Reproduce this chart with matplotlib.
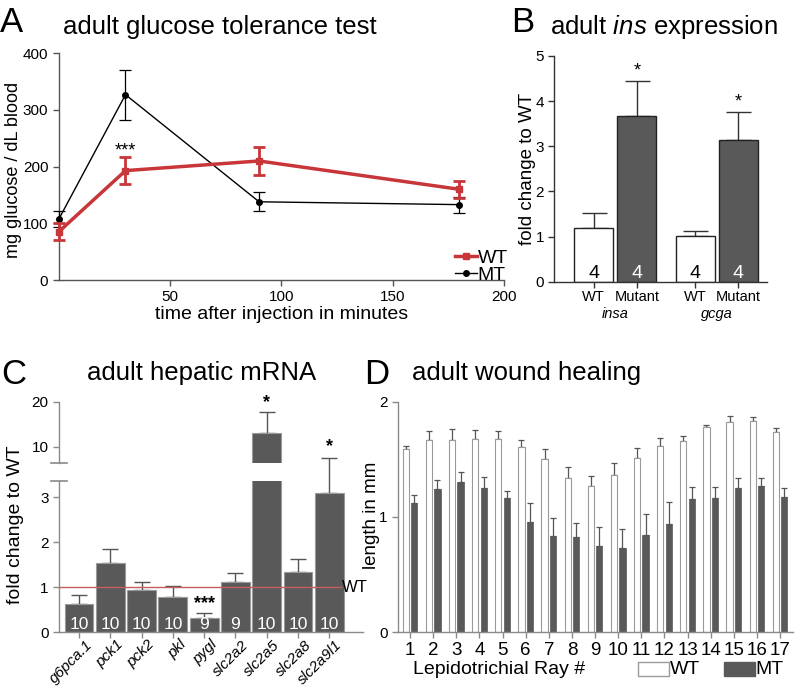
import numpy as np
import matplotlib
matplotlib.use('Agg')
import matplotlib.pyplot as plt
from matplotlib.patches import Rectangle
from matplotlib.lines import Line2D
from matplotlib.transforms import ScaledTranslation

plt.rcParams['font.family'] = ['Liberation Sans', 'DejaVu Sans']
plt.rcParams['mathtext.fontset'] = 'custom'
plt.rcParams['mathtext.rm'] = 'Liberation Sans'
plt.rcParams['mathtext.it'] = 'Liberation Sans:italic'

# A: glucose tolerance test
gtt_time = [0, 30, 90, 180]
gtt_wt = [85, 193, 210, 160]
gtt_wt_sem = [15, 24, 25, 15]
gtt_mt = [107, 327, 138, 133]
gtt_mt_sem = [14, 44, 17, 14]

# B: ins expression
ins_labels = ['WT', 'Mutant', 'WT', 'Mutant']
ins_groups = ['insa', 'gcga']
ins_vals = [1.19, 3.66, 1.02, 3.15]
ins_sem = [0.33, 0.78, 0.10, 0.61]
ins_n = [4, 4, 4, 4]

# C: hepatic mRNA
genes = ['g6pca.1', 'pck1', 'pck2', 'pkl', 'pygl', 'slc2a2', 'slc2a5', 'slc2a8', 'slc2a9l1']
hep_vals = [0.63, 1.54, 0.93, 0.79, 0.31, 1.11, 13.0, 1.33, 3.09]
hep_sem = [0.20, 0.31, 0.18, 0.25, 0.11, 0.20, 4.6, 0.31, 0.79]
hep_n = [10, 10, 10, 10, 9, 9, 10, 10, 10]

# D: wound healing
rays = list(range(1, 18))
wh_wt = [1.587, 1.668, 1.670, 1.676, 1.680, 1.607, 1.503, 1.336, 1.269, 1.362,
         1.512, 1.613, 1.659, 1.781, 1.824, 1.833, 1.735]
wh_wt_sem = [0.033, 0.078, 0.093, 0.076, 0.070, 0.061, 0.084, 0.095, 0.087, 0.104,
             0.088, 0.070, 0.041, 0.014, 0.049, 0.034, 0.034]
wh_mt = [1.119, 1.243, 1.301, 1.252, 1.165, 0.959, 0.835, 0.827, 0.748, 0.731,
         0.844, 0.942, 1.159, 1.162, 1.252, 1.269, 1.171]
wh_mt_sem = [0.071, 0.075, 0.087, 0.092, 0.058, 0.165, 0.154, 0.121, 0.168, 0.162,
             0.182, 0.185, 0.099, 0.096, 0.086, 0.069, 0.078]

W, H = 796, 689
fig = plt.figure(figsize=(W / 100, H / 100), dpi=100)


def rect(l, t, r, b):
    return [l / W, 1 - b / H, (r - l) / W, (b - t) / H]


def style(ax, col):
    for s in ['top', 'right']:
        ax.spines[s].set_visible(False)
    for s in ['left', 'bottom']:
        ax.spines[s].set_color(col)
        ax.spines[s].set_linewidth(1)
    ax.tick_params(colors=col, labelcolor='black', length=4, width=1)
    ax.set_facecolor('none')


DARK = '#595959'
RED = '#c8363a'

# ---------- A ----------
axA = fig.add_axes(rect(58.7, 53.3, 504, 280))
style(axA, '#555555')
axA.errorbar(gtt_time, gtt_mt, yerr=gtt_mt_sem, color='black', lw=1, marker='o', ms=4,
             capsize=4, elinewidth=0.9, capthick=0.9, clip_on=False, zorder=3)
axA.errorbar(gtt_time, gtt_wt, yerr=gtt_wt_sem, color=RED, lw=2.5, marker='s', ms=4,
             capsize=4, elinewidth=2, capthick=2, clip_on=False, zorder=4)
axA.set_xlim(0, 200)
axA.set_ylim(0, 400)
axA.set_xticks([50, 100, 150, 200])
axA.set_yticks([0, 100, 200, 300, 400])
axA.tick_params(labelsize=11)
axA.set_xlabel('time after injection in minutes', fontsize=14, labelpad=1)
axA.text(30, 212, '***', ha='center', va='bottom', fontsize=13)
handles = [Line2D([], [], color=RED, lw=2.5, marker='s', ms=4),
           Line2D([], [], color='black', lw=1, marker='o', ms=4)]
axA.legend(handles, ['WT', 'MT'], loc='lower right', bbox_to_anchor=(1.035, -0.07), frameon=False,
           fontsize=14, handlelength=1.1, handletextpad=0.05, labelspacing=0.0, borderaxespad=0.2)
fig.text(14 / W, 1 - 170 / H, 'mg glucose / dL blood', rotation=90, ha='center', va='center', fontsize=13)
fig.text(0 / W, 1 - 23 / H, 'A', fontsize=25, va='center', ha='left')
fig.text(63 / W, 1 - 27 / H, 'adult glucose tolerance test', fontsize=18.5, va='center', ha='left')

# ---------- B ----------
axB = fig.add_axes(rect(554.3, 56, 767, 281.7))
style(axB, '#333333')
xb = [0, 1, 2.35, 3.35]
axB.bar(xb, ins_vals, width=0.9, color=['white', DARK, 'white', DARK], edgecolor='#222222', lw=1, zorder=2)
axB.errorbar(xb, ins_vals, yerr=[np.zeros(4), ins_sem], fmt='none', ecolor='#333333',
             capsize=9, elinewidth=1, capthick=1, zorder=1)
for x, v, s, n, c in zip(xb, ins_vals, ins_sem, ins_n, ['black', 'white', 'black', 'white']):
    axB.text(x, 0.19, str(n), ha='center', va='center', fontsize=14, color=c)
    if v > 2:
        axB.text(x, v + s + 0.03, '*', ha='center', va='bottom', fontsize=13)
axB.set_xlim(-0.91, 4.01)
axB.set_ylim(0, 5)
axB.set_yticks(range(6))
axB.set_xticks(xb)
axB.set_xticklabels(ins_labels, fontsize=10.5)
axB.tick_params(axis='y', labelsize=11)
axB.tick_params(axis='x', pad=2)
for gx, g in zip([0.5, 2.85], ins_groups):
    axB.text(gx, -0.56, g, ha='center', va='top', fontsize=10.5, style='italic')
fig.text(527 / W, 1 - 169 / H, 'fold change to WT', rotation=90, ha='center', va='center', fontsize=13.5)
fig.text(511 / W, 1 - 23 / H, 'B', fontsize=25, va='center', ha='left')
fig.text(550 / W, 1 - 27 / H, 'adult $\\mathit{ins}$ expression', fontsize=18.5, va='center', ha='left')

# ---------- C ----------
GRAY = '#8a8a8a'
xc = np.arange(len(genes))
axC = fig.add_axes(rect(59, 480.7, 363, 632.3))
axCu = fig.add_axes(rect(59, 401.7, 363, 463.3))
for ax in (axC, axCu):
    style(ax, GRAY)
    ax.bar(xc, hep_vals, width=0.92, color=DARK, edgecolor='#9a9a9a', lw=0.8, zorder=2)
    ax.set_xlim(-0.64, 9.08)
axCu.spines['bottom'].set_visible(False)
axCu.tick_params(axis='x', bottom=False, labelbottom=False)
axC.set_ylim(0, 3.37)
axCu.set_ylim(6.3, 20)
axCu.set_yticks([10, 20])
axC.set_yticks([0, 1, 2, 3])
for ax in (axC, axCu):
    ax.tick_params(axis='y', labelsize=11)
# break caps
for ax, yv in ((axC, 1.0), (axCu, 0.0)):
    ax.plot([-0.025, 0.025], [yv, yv], transform=ax.transAxes, color=GRAY, lw=1.2, clip_on=False)
big = np.array(hep_vals) > 6
axC.errorbar(xc[~big], np.array(hep_vals)[~big], yerr=[np.zeros((~big).sum()), np.array(hep_sem)[~big]],
             fmt='none', ecolor='#555555', capsize=6, elinewidth=1, capthick=1, zorder=1, clip_on=False)
axCu.errorbar(xc[big], np.array(hep_vals)[big], yerr=[np.zeros(big.sum()), np.array(hep_sem)[big]],
              fmt='none', ecolor='#555555', capsize=6, elinewidth=1, capthick=1, zorder=1)
axC.plot([-0.64, 8.39], [1, 1], color='#c06060', lw=1, zorder=3, clip_on=False)
axC.text(8.4, 1, 'WT', ha='left', va='center', fontsize=12)
for x, n in zip(xc, hep_n):
    axC.text(x, 0.17, str(n), ha='center', va='center', fontsize=12.5, color='white', zorder=4)
axC.text(4, 0.45, '***', ha='center', va='bottom', fontsize=13, fontweight='bold')
axC.text(8, 3.95, '*', ha='center', va='bottom', fontsize=13, fontweight='bold', clip_on=False)
axCu.text(6, 18.0, '*', ha='center', va='bottom', fontsize=13, fontweight='bold', clip_on=False)
axC.set_xticks(xc)
axC.set_xticklabels(genes, rotation=45, ha='right', va='center', rotation_mode='anchor',
                    style='italic', fontsize=11)
for lab in axC.get_xticklabels():
    lab.set_transform(lab.get_transform() + ScaledTranslation(11 / 100, 0, fig.dpi_scale_trans))
fig.text(16 / W, 1 - 525 / H, 'fold change to WT', rotation=90, ha='center', va='center', fontsize=14)
fig.text(1 / W, 1 - 374 / H, 'C', fontsize=25, va='center', ha='left')
fig.text(87 / W, 1 - 373 / H, 'adult hepatic mRNA', fontsize=18.5, va='center', ha='left')

# ---------- D ----------
axD = fig.add_axes(rect(398, 401.7, 793, 632.3))
style(axD, GRAY)
xr = np.array(rays)
axD.bar(xr - 0.185, wh_wt, width=0.27, color='white', edgecolor='#9a9a9a', lw=0.8, zorder=2)
axD.bar(xr + 0.185, wh_mt, width=0.27, color=DARK, edgecolor=DARK, lw=0.5, zorder=2)
axD.errorbar(xr - 0.185, wh_wt, yerr=[np.zeros(17), wh_wt_sem], fmt='none', ecolor='#555555',
             capsize=2, elinewidth=0.9, capthick=0.9, zorder=1)
axD.errorbar(xr + 0.185, wh_mt, yerr=[np.zeros(17), wh_mt_sem], fmt='none', ecolor='#555555',
             capsize=2, elinewidth=0.9, capthick=0.9, zorder=1)
axD.set_xlim(0.48, 17.56)
axD.set_ylim(0, 2)
axD.set_yticks([0, 1, 2])
axD.set_xticks(rays)
axD.tick_params(axis='x', labelsize=13.5, pad=3)
axD.tick_params(axis='y', labelsize=11)
fig.text(413 / W, 1 - 670 / H, 'Lepidotrichial Ray #', fontsize=14, va='center', ha='left')
fig.patches.append(Rectangle((638 / W, 1 - 676 / H), 31 / W, 14 / H, transform=fig.transFigure,
                             facecolor='white', edgecolor='#9a9a9a', lw=1))
fig.patches.append(Rectangle((724 / W, 1 - 676 / H), 31 / W, 14 / H, transform=fig.transFigure,
                             facecolor=DARK, edgecolor=DARK, lw=1))
fig.text(670 / W, 1 - 669 / H, 'WT', fontsize=14, va='center', ha='left')
fig.text(755 / W, 1 - 669 / H, 'MT', fontsize=14, va='center', ha='left')
fig.text(371 / W, 1 - 515 / H, 'length in mm', rotation=90, ha='center', va='center', fontsize=13.5)
fig.text(364 / W, 1 - 374 / H, 'D', fontsize=25, va='center', ha='left')
fig.text(412 / W, 1 - 373 / H, 'adult wound healing', fontsize=18.5, va='center', ha='left')

fig.savefig('out.png', dpi=100)
